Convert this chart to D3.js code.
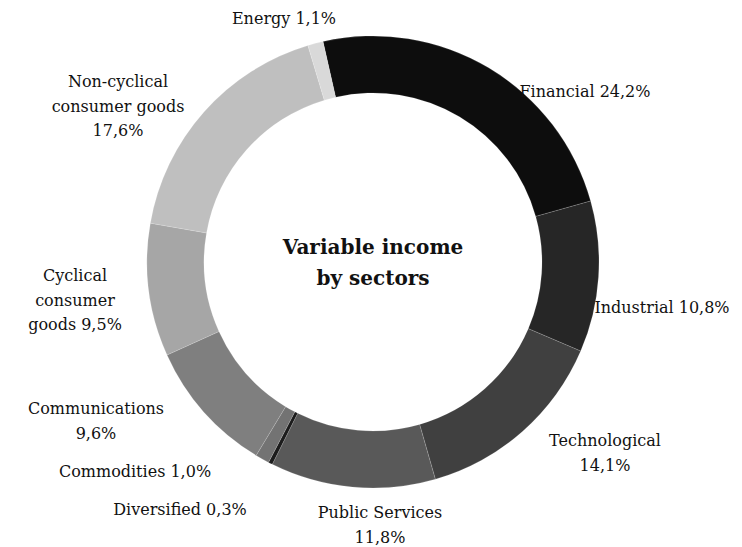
<!DOCTYPE html>
<html>
<head>
<meta charset="utf-8">
<script src="https://cdn.jsdelivr.net/npm/d3@7"></script>
<style>
  html, body { margin: 0; padding: 0; background: #fff; }
  svg { display: block; }
  .lbl { font-family: "DejaVu Serif", serif; font-size: 16px; fill: #111; }
  .ttl { font-family: "DejaVu Serif", serif; font-weight: bold; font-size: 20px; fill: #111; }
</style>
</head>
<body>
<svg id="chart" width="742" height="547"></svg>
<script>
// Sector weights (%) of the variable-income portfolio, in drawing order (clockwise)
const sectors = ["Financial", "Industrial", "Technological", "Public Services", "Diversified",
                 "Commodities", "Communications", "Cyclical consumer goods",
                 "Non-cyclical consumer goods", "Energy"];
const weights = [24.2, 10.8, 14.1, 11.8, 0.3, 1.0, 9.6, 9.5, 17.6, 1.1];
const shades  = ["#0d0d0d", "#262626", "#404040", "#595959", "#1c1c1c",
                 "#737373", "#7f7f7f", "#a6a6a6", "#bfbfbf", "#d9d9d9"];

// How each label wraps ("%v" is replaced by the formatted value)
const labelLines = [
  ["Financial %v"],
  ["Industrial %v"],
  ["Technological", "%v"],
  ["Public Services", "%v"],
  ["Diversified %v"],
  ["Commodities %v"],
  ["Communications", "%v"],
  ["Cyclical", "consumer", "goods %v"],
  ["Non-cyclical", "consumer goods", "%v"],
  ["Energy %v"]
];
// Label placement: centre x and first baseline y
const labelPos = [
  [585, 97], [662, 313], [605, 446], [380, 518], [180, 515],
  [135, 477], [96, 414], [75, 281], [118, 87], [284, 24]
];

const titleLines = ["Variable income", "by sectors"];

const width = 742, height = 547;
const cx = 373, cy = 262;
const outerR = 226, innerR = 169;
const lineH = 24.5;

const svg = d3.select("#chart");
const fmt = v => d3.format(".1f")(v).replace(".", ",") + "%";

const data = sectors.map((s, i) => ({ name: s, value: weights[i], color: shades[i], i }));

const pie = d3.pie()
  .value(d => d.value)
  .sort(null)
  .startAngle(-0.223)
  .endAngle(-0.223 + 2 * Math.PI);

const arc = d3.arc().innerRadius(innerR).outerRadius(outerR);

const g = svg.append("g").attr("transform", `translate(${cx},${cy})`);

g.selectAll("path.slice")
  .data(pie(data))
  .join("path")
  .attr("class", "slice")
  .attr("d", arc)
  .attr("fill", d => d.data.color)
  .attr("stroke", "rgba(255,255,255,0.3)")
  .attr("stroke-width", 0.5);

// Sector labels
data.forEach((d, i) => {
  const [x, y] = labelPos[i];
  const t = svg.append("text")
    .attr("class", "lbl")
    .attr("text-anchor", "middle")
    .attr("x", x).attr("y", y);
  labelLines[i].forEach((ln, k) => {
    t.append("tspan")
      .attr("x", x)
      .attr("y", y + k * lineH)
      .text(ln.replace("%v", fmt(d.value)));
  });
});

// Centre title
const tt = svg.append("text")
  .attr("class", "ttl")
  .attr("text-anchor", "middle");
titleLines.forEach((ln, k) => {
  tt.append("tspan")
    .attr("x", cx)
    .attr("y", 254 + k * 31)
    .text(ln);
});
</script>
</body>
</html>
